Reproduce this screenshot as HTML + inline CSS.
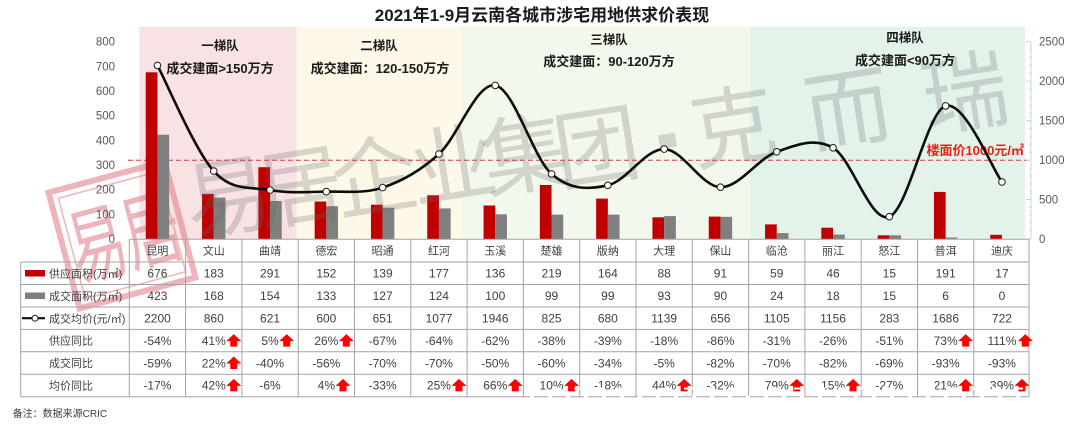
<!DOCTYPE html>
<html><head><meta charset="utf-8"><style>
html,body{margin:0;padding:0;background:#fff;}
svg{display:block;}
text{font-family:"Liberation Sans","Noto Sans CJK SC",sans-serif;}
</style></head><body>
<svg width="1080" height="427" viewBox="0 0 1080 427" xmlns="http://www.w3.org/2000/svg">
<defs>
<polygon id="ar" points="7.5,-6.5 15,0.5 11,0.5 11,6 4,6 4,0.5 0,0.5" fill="#f00"/>
</defs>
<rect width="1080" height="427" fill="#fff"/>
<!-- title -->
<text x="542" y="21" text-anchor="middle" font-size="17" font-weight="bold" fill="#1a1a1a">2021年1-9月云南各城市涉宅用地供求价表现</text>
<!-- bands -->
<rect x="139.3" y="26.7" width="157.4" height="212.3" fill="#f9e2e4"/>
<rect x="296.7" y="26.7" width="165" height="212.3" fill="#fef8e8"/>
<rect x="461.7" y="26.7" width="288.3" height="212.3" fill="#f3f8ed"/>
<rect x="750" y="26.7" width="275" height="212.3" fill="#e3f3ea"/>
<!-- stamp -->
<g transform="rotate(-15 122 235)" opacity="0.55">
<rect x="62" y="175" width="120" height="120" fill="none" stroke="#e07a84" stroke-width="6"/>
<rect x="70" y="183" width="104" height="104" fill="none" stroke="#e07a84" stroke-width="1.5"/>
<text transform="translate(96 268) scale(0.68 1)" text-anchor="middle" font-size="84" fill="#e07a84" font-family="Noto Sans CJK SC, sans-serif">易</text>
<text transform="translate(152 268) scale(0.68 1)" text-anchor="middle" font-size="84" fill="#e07a84" font-family="Noto Sans CJK SC, sans-serif">居</text>
</g>
<!-- dashed line -->
<line x1="128" y1="160.3" x2="1028" y2="160.3" stroke="#d23a3a" stroke-width="1" stroke-dasharray="5,3"/>
<!-- bars red -->
<g fill="#c00000">
<rect x="145.75" y="72.3" width="11.7" height="166.7"/>
<rect x="202.05" y="193.9" width="11.7" height="45.1"/>
<rect x="258.35" y="167.2" width="11.7" height="71.8"/>
<rect x="314.65" y="201.5" width="11.7" height="37.5"/>
<rect x="370.95" y="204.7" width="11.7" height="34.3"/>
<rect x="427.25" y="195.3" width="11.7" height="43.7"/>
<rect x="483.55" y="205.5" width="11.7" height="33.5"/>
<rect x="539.85" y="185.0" width="11.7" height="54.0"/>
<rect x="596.15" y="198.6" width="11.7" height="40.4"/>
<rect x="652.45" y="217.3" width="11.7" height="21.7"/>
<rect x="708.75" y="216.6" width="11.7" height="22.4"/>
<rect x="765.05" y="224.4" width="11.7" height="14.6"/>
<rect x="821.35" y="227.7" width="11.7" height="11.3"/>
<rect x="877.65" y="235.3" width="11.7" height="3.7"/>
<rect x="933.95" y="191.9" width="11.7" height="47.1"/>
<rect x="990.25" y="234.8" width="11.7" height="4.2"/>
</g>
<!-- bars gray -->
<g fill="#7f7f7f">
<rect x="157.45" y="134.7" width="11.7" height="104.3"/>
<rect x="213.75" y="197.6" width="11.7" height="41.4"/>
<rect x="270.05" y="201.0" width="11.7" height="38.0"/>
<rect x="326.35" y="206.2" width="11.7" height="32.8"/>
<rect x="382.65" y="207.7" width="11.7" height="31.3"/>
<rect x="438.95" y="208.4" width="11.7" height="30.6"/>
<rect x="495.25" y="214.3" width="11.7" height="24.7"/>
<rect x="551.55" y="214.6" width="11.7" height="24.4"/>
<rect x="607.85" y="214.6" width="11.7" height="24.4"/>
<rect x="664.15" y="216.1" width="11.7" height="22.9"/>
<rect x="720.45" y="216.8" width="11.7" height="22.2"/>
<rect x="776.75" y="233.1" width="11.7" height="5.9"/>
<rect x="833.05" y="234.6" width="11.7" height="4.4"/>
<rect x="889.35" y="235.3" width="11.7" height="3.7"/>
<rect x="945.65" y="237.5" width="11.7" height="1.5"/>
</g>
<!-- watermark -->
<g fill="rgba(105,105,105,0.25)" font-size="86" font-family="Noto Sans CJK SC, sans-serif" text-anchor="middle">
<text x="228" y="228" transform="rotate(-9 228 198)">易</text>
<text x="300" y="218" transform="rotate(-9 300 188)">居</text>
<text x="375" y="208" transform="rotate(-9 375 178)">企</text>
<text x="453" y="196" transform="rotate(-9 453 166)">业</text>
<text x="525" y="186" transform="rotate(-9 525 156)">集</text>
<text x="597" y="178" transform="rotate(-9 597 148)">团</text>
<text x="733" y="158" transform="rotate(-9 733 128)">克</text>
<text x="848" y="140" transform="rotate(-9 848 110)">而</text>
<text x="965" y="124" transform="rotate(-9 965 94)">瑞</text>
</g>
<rect x="659" y="134" width="17" height="14" fill="rgba(105,105,105,0.25)" transform="rotate(-9 667 141)"/>
<!-- tier labels -->
<g font-weight="bold" fill="#1a1a1a" text-anchor="middle">
<text x="220" y="50" font-size="12.5">一梯队</text>
<text x="220" y="73" font-size="13">成交建面&gt;150万方</text>
<text x="379" y="50" font-size="12.5">二梯队</text>
<text x="380" y="73" font-size="13">成交建面：120-150万方</text>
<text x="609" y="44" font-size="12.5">三梯队</text>
<text x="609" y="66" font-size="13">成交建面：90-120万方</text>
<text x="905" y="42" font-size="12.5">四梯队</text>
<text x="905" y="65" font-size="13">成交建面&lt;90万方</text>
</g>
<text x="1024" y="155" text-anchor="end" font-size="13" font-weight="bold" fill="#e8201a">楼面价1000元/㎡</text>
<!-- price line -->
<path d="M157.45,65.4 C166.83,83.02 194.98,150.33 213.75,171.1 C232.52,191.87 251.28,186.58 270.05,190.0 C288.82,193.42 307.58,192.0 326.35,191.6 C345.12,191.2 363.88,193.87 382.65,187.6 C401.42,181.33 420.18,171.03 438.95,154.0 C457.72,136.97 476.48,82.08 495.25,85.4 C514.02,88.72 532.78,157.25 551.55,173.9 C570.32,190.55 589.08,189.43 607.85,185.3 C626.62,181.17 645.38,148.78 664.15,149.1 C682.92,149.42 701.68,186.75 720.45,187.2 C739.22,187.65 757.98,158.37 776.75,151.8 C795.52,145.23 814.28,136.98 833.05,147.8 C851.82,158.62 870.58,223.68 889.35,216.7 C908.12,209.72 926.88,111.68 945.65,105.9 C964.42,100.12 992.57,169.32 1001.95,182.0" fill="none" stroke="#0d0d0d" stroke-width="2.6"/>
<g fill="#fff" stroke="#1a1a1a" stroke-width="1">
<circle cx="157.45" cy="65.4" r="3.3"/><circle cx="213.75" cy="171.1" r="3.3"/><circle cx="270.05" cy="190.0" r="3.3"/><circle cx="326.35" cy="191.6" r="3.3"/><circle cx="382.65" cy="187.6" r="3.3"/><circle cx="438.95" cy="154.0" r="3.3"/><circle cx="495.25" cy="85.4" r="3.3"/><circle cx="551.55" cy="173.9" r="3.3"/><circle cx="607.85" cy="185.3" r="3.3"/><circle cx="664.15" cy="149.1" r="3.3"/><circle cx="720.45" cy="187.2" r="3.3"/><circle cx="776.75" cy="151.8" r="3.3"/><circle cx="833.05" cy="147.8" r="3.3"/><circle cx="889.35" cy="216.7" r="3.3"/><circle cx="945.65" cy="105.9" r="3.3"/><circle cx="1001.95" cy="182.0" r="3.3"/>
</g>
<!-- left axis labels -->
<g font-size="11.5" fill="#595959" text-anchor="end">
<text x="115" y="243">0</text><text x="115" y="218.3">100</text><text x="115" y="193.7">200</text><text x="115" y="169">300</text><text x="115" y="144.3">400</text><text x="115" y="119.7">500</text><text x="115" y="95">600</text><text x="115" y="70.4">700</text><text x="115" y="45.7">800</text>
</g>
<!-- right axis -->
<line x1="1031" y1="41.7" x2="1031" y2="239" stroke="#c9d4df" stroke-width="1"/>
<g stroke="#c9d4df" stroke-width="1">
<line x1="1026" y1="239" x2="1031" y2="239"/><line x1="1026" y1="199.5" x2="1031" y2="199.5"/><line x1="1026" y1="160.1" x2="1031" y2="160.1"/><line x1="1026" y1="120.6" x2="1031" y2="120.6"/><line x1="1026" y1="81.1" x2="1031" y2="81.1"/><line x1="1026" y1="41.7" x2="1031" y2="41.7"/>
<line x1="1029" y1="231.1" x2="1031" y2="231.1"/><line x1="1029" y1="223.2" x2="1031" y2="223.2"/><line x1="1029" y1="215.3" x2="1031" y2="215.3"/><line x1="1029" y1="207.4" x2="1031" y2="207.4"/>
<line x1="1029" y1="191.6" x2="1031" y2="191.6"/><line x1="1029" y1="183.7" x2="1031" y2="183.7"/><line x1="1029" y1="175.8" x2="1031" y2="175.8"/><line x1="1029" y1="168.0" x2="1031" y2="168.0"/>
<line x1="1029" y1="152.2" x2="1031" y2="152.2"/><line x1="1029" y1="144.3" x2="1031" y2="144.3"/><line x1="1029" y1="136.4" x2="1031" y2="136.4"/><line x1="1029" y1="128.5" x2="1031" y2="128.5"/>
<line x1="1029" y1="112.7" x2="1031" y2="112.7"/><line x1="1029" y1="104.8" x2="1031" y2="104.8"/><line x1="1029" y1="96.9" x2="1031" y2="96.9"/><line x1="1029" y1="89.0" x2="1031" y2="89.0"/>
<line x1="1029" y1="73.2" x2="1031" y2="73.2"/><line x1="1029" y1="65.4" x2="1031" y2="65.4"/><line x1="1029" y1="57.5" x2="1031" y2="57.5"/><line x1="1029" y1="49.6" x2="1031" y2="49.6"/>
</g>
<g font-size="11.5" fill="#595959">
<text x="1039" y="243">0</text><text x="1039" y="203.5">500</text><text x="1039" y="164.1">1000</text><text x="1039" y="124.6">1500</text><text x="1039" y="85.1">2000</text><text x="1039" y="45.7">2500</text>
</g>
<!-- table grid -->
<g stroke="#a3a3a3" stroke-width="1" fill="none">
<line x1="129.3" y1="239.3" x2="1029" y2="239.3"/>
<line x1="20.7" y1="262" x2="1029" y2="262"/>
<line x1="20.7" y1="284.5" x2="1029" y2="284.5"/>
<line x1="20.7" y1="307" x2="1029" y2="307"/>
<line x1="20.7" y1="329.4" x2="1029" y2="329.4"/>
<line x1="20.7" y1="351.8" x2="1029" y2="351.8"/>
<line x1="20.7" y1="374.2" x2="1029" y2="374.2"/>
<line x1="20.7" y1="396.7" x2="1029" y2="396.7"/>
<line x1="20.7" y1="262" x2="20.7" y2="396.7"/>
<line x1="129.3" y1="239.3" x2="129.3" y2="396.7"/>
<line x1="185.6" y1="239.3" x2="185.6" y2="396.7"/>
<line x1="241.9" y1="239.3" x2="241.9" y2="396.7"/>
<line x1="298.2" y1="239.3" x2="298.2" y2="396.7"/>
<line x1="354.5" y1="239.3" x2="354.5" y2="396.7"/>
<line x1="410.8" y1="239.3" x2="410.8" y2="396.7"/>
<line x1="467.1" y1="239.3" x2="467.1" y2="396.7"/>
<line x1="523.4" y1="239.3" x2="523.4" y2="396.7"/>
<line x1="579.7" y1="239.3" x2="579.7" y2="396.7"/>
<line x1="636.0" y1="239.3" x2="636.0" y2="396.7"/>
<line x1="692.3" y1="239.3" x2="692.3" y2="396.7"/>
<line x1="748.6" y1="239.3" x2="748.6" y2="396.7"/>
<line x1="804.9" y1="239.3" x2="804.9" y2="396.7"/>
<line x1="861.2" y1="239.3" x2="861.2" y2="396.7"/>
<line x1="917.5" y1="239.3" x2="917.5" y2="396.7"/>
<line x1="973.8" y1="239.3" x2="973.8" y2="396.7"/>
<line x1="1029" y1="239.3" x2="1029" y2="396.7"/>
</g>
<!-- legend label column -->
<rect x="25" y="270" width="20" height="6.5" fill="#c00000"/>
<rect x="25" y="292.5" width="20" height="6.5" fill="#7f7f7f"/>
<line x1="22" y1="318.2" x2="45" y2="318.2" stroke="#0d0d0d" stroke-width="2.2"/>
<circle cx="35" cy="318.2" r="3" fill="#fff" stroke="#1a1a1a" stroke-width="1"/>
<g font-size="11" fill="#404040">
<text x="49" y="277.3">供应面积(万㎡)</text>
<text x="49" y="299.8">成交面积(万㎡)</text>
<text x="49" y="322.3">成交均价(元/㎡)</text>
<text x="49" y="344.7">供应同比</text>
<text x="49" y="367.1">成交同比</text>
<text x="49" y="389.5">均价同比</text>
</g>
<!-- header cities -->
<g font-size="11" fill="#404040" text-anchor="middle">
<text x="157.45" y="254.6">昆明</text><text x="213.75" y="254.6">文山</text><text x="270.05" y="254.6">曲靖</text><text x="326.35" y="254.6">德宏</text><text x="382.65" y="254.6">昭通</text><text x="438.95" y="254.6">红河</text><text x="495.25" y="254.6">玉溪</text><text x="551.55" y="254.6">楚雄</text><text x="607.85" y="254.6">版纳</text><text x="664.15" y="254.6">大理</text><text x="720.45" y="254.6">保山</text><text x="776.75" y="254.6">临沧</text><text x="833.05" y="254.6">丽江</text><text x="889.35" y="254.6">怒江</text><text x="945.65" y="254.6">普洱</text><text x="1001.95" y="254.6">迪庆</text>
</g>
<g font-size="12" fill="#404040" text-anchor="middle">
<!-- row1 -->
<text x="157.45" y="277.5">676</text><text x="213.75" y="277.5">183</text><text x="270.05" y="277.5">291</text><text x="326.35" y="277.5">152</text><text x="382.65" y="277.5">139</text><text x="438.95" y="277.5">177</text><text x="495.25" y="277.5">136</text><text x="551.55" y="277.5">219</text><text x="607.85" y="277.5">164</text><text x="664.15" y="277.5">88</text><text x="720.45" y="277.5">91</text><text x="776.75" y="277.5">59</text><text x="833.05" y="277.5">46</text><text x="889.35" y="277.5">15</text><text x="945.65" y="277.5">191</text><text x="1001.95" y="277.5">17</text>
<!-- row2 -->
<text x="157.45" y="300">423</text><text x="213.75" y="300">168</text><text x="270.05" y="300">154</text><text x="326.35" y="300">133</text><text x="382.65" y="300">127</text><text x="438.95" y="300">124</text><text x="495.25" y="300">100</text><text x="551.55" y="300">99</text><text x="607.85" y="300">99</text><text x="664.15" y="300">93</text><text x="720.45" y="300">90</text><text x="776.75" y="300">24</text><text x="833.05" y="300">18</text><text x="889.35" y="300">15</text><text x="945.65" y="300">6</text><text x="1001.95" y="300">0</text>
<!-- row3 -->
<text x="157.45" y="322.5">2200</text><text x="213.75" y="322.5">860</text><text x="270.05" y="322.5">621</text><text x="326.35" y="322.5">600</text><text x="382.65" y="322.5">651</text><text x="438.95" y="322.5">1077</text><text x="495.25" y="322.5">1946</text><text x="551.55" y="322.5">825</text><text x="607.85" y="322.5">680</text><text x="664.15" y="322.5">1139</text><text x="720.45" y="322.5">656</text><text x="776.75" y="322.5">1105</text><text x="833.05" y="322.5">1156</text><text x="889.35" y="322.5">283</text><text x="945.65" y="322.5">1686</text><text x="1001.95" y="322.5">722</text>
<!-- row4 -->
<text x="157.45" y="344.9">-54%</text><text x="213.75" y="344.9">41%</text><text x="270.05" y="344.9">5%</text><text x="326.35" y="344.9">26%</text><text x="382.65" y="344.9">-67%</text><text x="438.95" y="344.9">-64%</text><text x="495.25" y="344.9">-62%</text><text x="551.55" y="344.9">-38%</text><text x="607.85" y="344.9">-39%</text><text x="664.15" y="344.9">-18%</text><text x="720.45" y="344.9">-86%</text><text x="776.75" y="344.9">-31%</text><text x="833.05" y="344.9">-26%</text><text x="889.35" y="344.9">-51%</text><text x="945.65" y="344.9">73%</text><text x="1001.95" y="344.9">111%</text>
<!-- row5 -->
<text x="157.45" y="367.3">-59%</text><text x="213.75" y="367.3">22%</text><text x="270.05" y="367.3">-40%</text><text x="326.35" y="367.3">-56%</text><text x="382.65" y="367.3">-70%</text><text x="438.95" y="367.3">-70%</text><text x="495.25" y="367.3">-50%</text><text x="551.55" y="367.3">-60%</text><text x="607.85" y="367.3">-34%</text><text x="664.15" y="367.3">-5%</text><text x="720.45" y="367.3">-82%</text><text x="776.75" y="367.3">-70%</text><text x="833.05" y="367.3">-82%</text><text x="889.35" y="367.3">-69%</text><text x="945.65" y="367.3">-93%</text><text x="1001.95" y="367.3">-93%</text>
<!-- row6 -->
<text x="157.45" y="389.7">-17%</text><text x="213.75" y="389.7">42%</text><text x="270.05" y="389.7">-6%</text><text x="326.35" y="389.7">4%</text><text x="382.65" y="389.7">-33%</text><text x="438.95" y="389.7">25%</text><text x="495.25" y="389.7">66%</text><text x="551.55" y="389.7">10%</text><text x="607.85" y="389.7">-18%</text><text x="664.15" y="389.7">44%</text><text x="720.45" y="389.7">-32%</text><text x="776.75" y="389.7">79%</text><text x="833.05" y="389.7">15%</text><text x="889.35" y="389.7">-27%</text><text x="945.65" y="389.7">21%</text><text x="1001.95" y="389.7">39%</text>
</g>
<!-- arrows -->
<use href="#ar" x="226.25" y="340.6"/>
<use href="#ar" x="279.2" y="340.6"/>
<use href="#ar" x="338.85" y="340.6"/>
<use href="#ar" x="958.15" y="340.6"/>
<use href="#ar" x="1017.8" y="340.6"/>
<use href="#ar" x="226.25" y="363"/>
<use href="#ar" x="226.25" y="385.4"/>
<use href="#ar" x="335.5" y="385.4"/>
<use href="#ar" x="451.45" y="385.4"/>
<use href="#ar" x="507.75" y="385.4"/>
<use href="#ar" x="564.05" y="385.4"/>
<use href="#ar" x="676.65" y="385.4"/>
<use href="#ar" x="789.25" y="385.4"/>
<use href="#ar" x="845.55" y="385.4"/>
<use href="#ar" x="958.15" y="385.4"/>
<use href="#ar" x="1014.45" y="385.4"/>
<!-- artifacts on last row -->
<line x1="530" y1="388.5" x2="1029" y2="388.5" stroke="#fff" stroke-width="2" stroke-dasharray="9,13"/>
<line x1="530" y1="396.7" x2="1029" y2="396.7" stroke="#fff" stroke-width="2" stroke-dasharray="4,14"/>
<!-- note -->
<text x="12.7" y="417" font-size="10" fill="#404040">备注：数据来源CRIC</text>
</svg>
</body></html>
